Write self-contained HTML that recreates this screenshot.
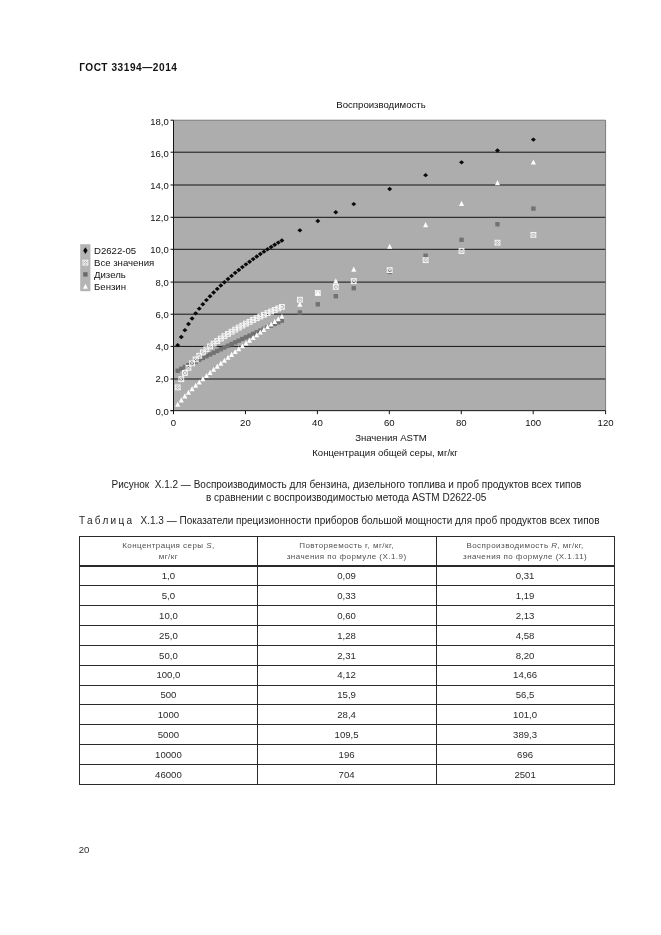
<!DOCTYPE html>
<html lang="ru"><head><meta charset="utf-8"><title>ГОСТ 33194—2014</title>
<style>
html,body{margin:0;padding:0;background:#fff;}
body{width:661px;height:935px;position:relative;overflow:hidden;font-family:"Liberation Sans",Arial,sans-serif;color:#1a1a1a;}
.t{position:absolute;white-space:nowrap;line-height:1;}
.c{transform:translateX(-50%);}
.r{transform:translateX(-100%);}
.hd{font-weight:bold;font-size:10.1px;letter-spacing:0.55px;left:79.2px;top:62.7px;color:#111;}
.ax{font-size:9.6px;color:#111;}
.cap{font-size:10px;color:#222;}
.hl{position:absolute;background:#2a2a2a;}
.th{font-size:8px;letter-spacing:0.45px;color:#505050;}
.td{font-size:9.6px;color:#2a2a2a;}
</style></head><body>
<svg width="661" height="935" viewBox="0 0 661 935" style="position:absolute;left:0;top:0">
<rect x="173.5" y="120.2" width="432.10" height="290.45" fill="#adadad"/>
<rect x="173.5" y="378.50" width="432.10" height="1" fill="#141414"/>
<rect x="173.5" y="345.90" width="432.10" height="1" fill="#141414"/>
<rect x="173.5" y="313.70" width="432.10" height="1" fill="#141414"/>
<rect x="173.5" y="281.60" width="432.10" height="1" fill="#141414"/>
<rect x="173.5" y="248.80" width="432.10" height="1" fill="#141414"/>
<rect x="173.5" y="216.80" width="432.10" height="1" fill="#141414"/>
<rect x="173.5" y="184.50" width="432.10" height="1" fill="#141414"/>
<rect x="173.5" y="151.70" width="432.10" height="1" fill="#141414"/>
<path d="M173.5 120.2H605.6V410.65" fill="none" stroke="#666" stroke-width="0.8"/>
<rect x="173.0" y="120.2" width="1" height="293.45" fill="#141414"/>
<rect x="170.5" y="410.15" width="435.10" height="1" fill="#141414"/>
<rect x="170.5" y="410.15" width="3" height="1" fill="#141414"/>
<rect x="170.5" y="378.50" width="3" height="1" fill="#141414"/>
<rect x="170.5" y="345.90" width="3" height="1" fill="#141414"/>
<rect x="170.5" y="313.70" width="3" height="1" fill="#141414"/>
<rect x="170.5" y="281.60" width="3" height="1" fill="#141414"/>
<rect x="170.5" y="248.80" width="3" height="1" fill="#141414"/>
<rect x="170.5" y="216.80" width="3" height="1" fill="#141414"/>
<rect x="170.5" y="184.50" width="3" height="1" fill="#141414"/>
<rect x="170.5" y="151.70" width="3" height="1" fill="#141414"/>
<rect x="170.5" y="119.70" width="3" height="1" fill="#141414"/>
<rect x="173.00" y="410.65" width="1" height="3.5" fill="#141414"/>
<rect x="244.94" y="410.65" width="1" height="3.5" fill="#141414"/>
<rect x="316.88" y="410.65" width="1" height="3.5" fill="#141414"/>
<rect x="388.82" y="410.65" width="1" height="3.5" fill="#141414"/>
<rect x="460.76" y="410.65" width="1" height="3.5" fill="#141414"/>
<rect x="532.70" y="410.65" width="1" height="3.5" fill="#141414"/>
<rect x="605.10" y="410.65" width="1" height="3.5" fill="#141414"/>
<rect x="80.2" y="244.2" width="10.2" height="47" fill="#b4b4b4"/>
<g>
<path d="M177.69 342.93L180.19 345.13L177.69 347.33L175.19 345.13Z" fill="#0a0a0a"/>
<path d="M181.29 334.86L183.79 337.06L181.29 339.26L178.79 337.06Z" fill="#0a0a0a"/>
<path d="M184.88 327.93L187.38 330.13L184.88 332.33L182.38 330.13Z" fill="#0a0a0a"/>
<path d="M188.47 321.79L190.97 323.99L188.47 326.19L185.97 323.99Z" fill="#0a0a0a"/>
<path d="M192.06 316.24L194.56 318.44L192.06 320.64L189.56 318.44Z" fill="#0a0a0a"/>
<path d="M195.66 311.16L198.16 313.36L195.66 315.56L193.16 313.36Z" fill="#0a0a0a"/>
<path d="M199.25 306.46L201.75 308.66L199.25 310.86L196.75 308.66Z" fill="#0a0a0a"/>
<path d="M202.84 302.06L205.34 304.26L202.84 306.46L200.34 304.26Z" fill="#0a0a0a"/>
<path d="M206.44 297.91L208.94 300.11L206.44 302.31L203.94 300.11Z" fill="#0a0a0a"/>
<path d="M210.03 293.99L212.53 296.19L210.03 298.39L207.53 296.19Z" fill="#0a0a0a"/>
<path d="M213.62 290.27L216.12 292.47L213.62 294.67L211.12 292.47Z" fill="#0a0a0a"/>
<path d="M217.22 286.70L219.72 288.90L217.22 291.10L214.72 288.90Z" fill="#0a0a0a"/>
<path d="M220.81 283.29L223.31 285.49L220.81 287.69L218.31 285.49Z" fill="#0a0a0a"/>
<path d="M224.40 280.02L226.90 282.22L224.40 284.42L221.90 282.22Z" fill="#0a0a0a"/>
<path d="M228.00 276.79L230.50 278.99L228.00 281.19L225.50 278.99Z" fill="#0a0a0a"/>
<path d="M231.59 273.68L234.09 275.88L231.59 278.08L229.09 275.88Z" fill="#0a0a0a"/>
<path d="M235.18 270.67L237.68 272.87L235.18 275.07L232.68 272.87Z" fill="#0a0a0a"/>
<path d="M238.77 267.75L241.27 269.95L238.77 272.15L236.27 269.95Z" fill="#0a0a0a"/>
<path d="M242.37 264.92L244.87 267.12L242.37 269.32L239.87 267.12Z" fill="#0a0a0a"/>
<path d="M245.96 262.17L248.46 264.37L245.96 266.57L243.46 264.37Z" fill="#0a0a0a"/>
<path d="M249.55 259.50L252.05 261.70L249.55 263.90L247.05 261.70Z" fill="#0a0a0a"/>
<path d="M253.15 256.89L255.65 259.09L253.15 261.29L250.65 259.09Z" fill="#0a0a0a"/>
<path d="M256.74 254.35L259.24 256.55L256.74 258.75L254.24 256.55Z" fill="#0a0a0a"/>
<path d="M260.33 251.86L262.83 254.06L260.33 256.26L257.83 254.06Z" fill="#0a0a0a"/>
<path d="M263.93 249.44L266.43 251.64L263.93 253.84L261.43 251.64Z" fill="#0a0a0a"/>
<path d="M267.52 247.07L270.02 249.27L267.52 251.47L265.02 249.27Z" fill="#0a0a0a"/>
<path d="M271.11 244.80L273.61 247.00L271.11 249.20L268.61 247.00Z" fill="#0a0a0a"/>
<path d="M274.70 242.58L277.20 244.78L274.70 246.98L272.20 244.78Z" fill="#0a0a0a"/>
<path d="M278.30 240.40L280.80 242.60L278.30 244.80L275.80 242.60Z" fill="#0a0a0a"/>
<path d="M281.89 238.27L284.39 240.47L281.89 242.67L279.39 240.47Z" fill="#0a0a0a"/>
<path d="M299.86 228.16L302.36 230.36L299.86 232.56L297.36 230.36Z" fill="#0a0a0a"/>
<path d="M317.82 218.84L320.32 221.04L317.82 223.24L315.32 221.04Z" fill="#0a0a0a"/>
<path d="M335.78 210.12L338.28 212.32L335.78 214.52L333.28 212.32Z" fill="#0a0a0a"/>
<path d="M353.75 201.91L356.25 204.11L353.75 206.31L351.25 204.11Z" fill="#0a0a0a"/>
<path d="M389.68 186.80L392.18 189.00L389.68 191.20L387.18 189.00Z" fill="#0a0a0a"/>
<path d="M425.61 172.95L428.11 175.15L425.61 177.35L423.11 175.15Z" fill="#0a0a0a"/>
<path d="M461.54 160.15L464.04 162.35L461.54 164.55L459.04 162.35Z" fill="#0a0a0a"/>
<path d="M497.47 148.29L499.97 150.49L497.47 152.69L494.97 150.49Z" fill="#0a0a0a"/>
<path d="M533.40 137.42L535.90 139.62L533.40 141.82L530.90 139.62Z" fill="#0a0a0a"/>
</g>
<g>
<rect x="175.49" y="368.57" width="4.4" height="4.4" fill="#727272"/>
<rect x="179.09" y="366.66" width="4.4" height="4.4" fill="#727272"/>
<rect x="182.68" y="364.79" width="4.4" height="4.4" fill="#727272"/>
<rect x="186.27" y="362.95" width="4.4" height="4.4" fill="#727272"/>
<rect x="189.87" y="361.13" width="4.4" height="4.4" fill="#727272"/>
<rect x="193.46" y="359.33" width="4.4" height="4.4" fill="#727272"/>
<rect x="197.05" y="357.54" width="4.4" height="4.4" fill="#727272"/>
<rect x="200.64" y="355.76" width="4.4" height="4.4" fill="#727272"/>
<rect x="204.24" y="353.99" width="4.4" height="4.4" fill="#727272"/>
<rect x="207.83" y="352.24" width="4.4" height="4.4" fill="#727272"/>
<rect x="211.42" y="350.49" width="4.4" height="4.4" fill="#727272"/>
<rect x="215.02" y="348.74" width="4.4" height="4.4" fill="#727272"/>
<rect x="218.61" y="347.01" width="4.4" height="4.4" fill="#727272"/>
<rect x="222.20" y="345.28" width="4.4" height="4.4" fill="#727272"/>
<rect x="225.80" y="343.56" width="4.4" height="4.4" fill="#727272"/>
<rect x="229.39" y="341.86" width="4.4" height="4.4" fill="#727272"/>
<rect x="232.98" y="340.16" width="4.4" height="4.4" fill="#727272"/>
<rect x="236.57" y="338.48" width="4.4" height="4.4" fill="#727272"/>
<rect x="240.17" y="336.79" width="4.4" height="4.4" fill="#727272"/>
<rect x="243.76" y="335.11" width="4.4" height="4.4" fill="#727272"/>
<rect x="247.35" y="333.43" width="4.4" height="4.4" fill="#727272"/>
<rect x="250.95" y="331.76" width="4.4" height="4.4" fill="#727272"/>
<rect x="254.54" y="330.09" width="4.4" height="4.4" fill="#727272"/>
<rect x="258.13" y="328.42" width="4.4" height="4.4" fill="#727272"/>
<rect x="261.73" y="326.75" width="4.4" height="4.4" fill="#727272"/>
<rect x="265.32" y="325.09" width="4.4" height="4.4" fill="#727272"/>
<rect x="268.91" y="323.43" width="4.4" height="4.4" fill="#727272"/>
<rect x="272.50" y="321.78" width="4.4" height="4.4" fill="#727272"/>
<rect x="276.10" y="320.13" width="4.4" height="4.4" fill="#727272"/>
<rect x="279.69" y="318.48" width="4.4" height="4.4" fill="#727272"/>
<rect x="297.66" y="310.26" width="4.4" height="4.4" fill="#727272"/>
<rect x="315.62" y="302.13" width="4.4" height="4.4" fill="#727272"/>
<rect x="333.58" y="294.03" width="4.4" height="4.4" fill="#727272"/>
<rect x="351.55" y="285.98" width="4.4" height="4.4" fill="#727272"/>
<rect x="387.48" y="269.77" width="4.4" height="4.4" fill="#727272"/>
<rect x="423.41" y="253.54" width="4.4" height="4.4" fill="#727272"/>
<rect x="459.34" y="237.65" width="4.4" height="4.4" fill="#727272"/>
<rect x="495.27" y="222.02" width="4.4" height="4.4" fill="#727272"/>
<rect x="531.20" y="206.37" width="4.4" height="4.4" fill="#727272"/>
</g>
<g>
<g stroke="#f6f6f6" stroke-width="1" fill="none"><rect x="175.29" y="384.99" width="4.8" height="4.8"/><path d="M175.29 384.99L180.09 389.79M180.09 384.99L175.29 389.79" stroke-width="0.9"/></g>
<g stroke="#f6f6f6" stroke-width="1" fill="none"><rect x="178.89" y="376.80" width="4.8" height="4.8"/><path d="M178.89 376.80L183.69 381.60M183.69 376.80L178.89 381.60" stroke-width="0.9"/></g>
<g stroke="#f6f6f6" stroke-width="1" fill="none"><rect x="182.48" y="370.55" width="4.8" height="4.8"/><path d="M182.48 370.55L187.28 375.35M187.28 370.55L182.48 375.35" stroke-width="0.9"/></g>
<g stroke="#f6f6f6" stroke-width="1" fill="none"><rect x="186.07" y="365.40" width="4.8" height="4.8"/><path d="M186.07 365.40L190.87 370.20M190.87 365.40L186.07 370.20" stroke-width="0.9"/></g>
<g stroke="#f6f6f6" stroke-width="1" fill="none"><rect x="189.66" y="360.94" width="4.8" height="4.8"/><path d="M189.66 360.94L194.47 365.74M194.47 360.94L189.66 365.74" stroke-width="0.9"/></g>
<g stroke="#f6f6f6" stroke-width="1" fill="none"><rect x="193.26" y="356.95" width="4.8" height="4.8"/><path d="M193.26 356.95L198.06 361.75M198.06 356.95L193.26 361.75" stroke-width="0.9"/></g>
<g stroke="#f6f6f6" stroke-width="1" fill="none"><rect x="196.85" y="353.33" width="4.8" height="4.8"/><path d="M196.85 353.33L201.65 358.13M201.65 353.33L196.85 358.13" stroke-width="0.9"/></g>
<g stroke="#f6f6f6" stroke-width="1" fill="none"><rect x="200.44" y="349.98" width="4.8" height="4.8"/><path d="M200.44 349.98L205.24 354.78M205.24 349.98L200.44 354.78" stroke-width="0.9"/></g>
<g stroke="#f6f6f6" stroke-width="1" fill="none"><rect x="204.04" y="346.87" width="4.8" height="4.8"/><path d="M204.04 346.87L208.84 351.67M208.84 346.87L204.04 351.67" stroke-width="0.9"/></g>
<g stroke="#f6f6f6" stroke-width="1" fill="none"><rect x="207.63" y="343.95" width="4.8" height="4.8"/><path d="M207.63 343.95L212.43 348.75M212.43 343.95L207.63 348.75" stroke-width="0.9"/></g>
<g stroke="#f6f6f6" stroke-width="1" fill="none"><rect x="211.22" y="341.22" width="4.8" height="4.8"/><path d="M211.22 341.22L216.02 346.02M216.02 341.22L211.22 346.02" stroke-width="0.9"/></g>
<g stroke="#f6f6f6" stroke-width="1" fill="none"><rect x="214.82" y="338.63" width="4.8" height="4.8"/><path d="M214.82 338.63L219.62 343.43M219.62 338.63L214.82 343.43" stroke-width="0.9"/></g>
<g stroke="#f6f6f6" stroke-width="1" fill="none"><rect x="218.41" y="336.15" width="4.8" height="4.8"/><path d="M218.41 336.15L223.21 340.95M223.21 336.15L218.41 340.95" stroke-width="0.9"/></g>
<g stroke="#f6f6f6" stroke-width="1" fill="none"><rect x="222.00" y="333.79" width="4.8" height="4.8"/><path d="M222.00 333.79L226.80 338.59M226.80 333.79L222.00 338.59" stroke-width="0.9"/></g>
<g stroke="#f6f6f6" stroke-width="1" fill="none"><rect x="225.59" y="331.51" width="4.8" height="4.8"/><path d="M225.59 331.51L230.40 336.31M230.40 331.51L225.59 336.31" stroke-width="0.9"/></g>
<g stroke="#f6f6f6" stroke-width="1" fill="none"><rect x="229.19" y="329.32" width="4.8" height="4.8"/><path d="M229.19 329.32L233.99 334.12M233.99 329.32L229.19 334.12" stroke-width="0.9"/></g>
<g stroke="#f6f6f6" stroke-width="1" fill="none"><rect x="232.78" y="327.21" width="4.8" height="4.8"/><path d="M232.78 327.21L237.58 332.01M237.58 327.21L232.78 332.01" stroke-width="0.9"/></g>
<g stroke="#f6f6f6" stroke-width="1" fill="none"><rect x="236.37" y="325.16" width="4.8" height="4.8"/><path d="M236.37 325.16L241.17 329.96M241.17 325.16L236.37 329.96" stroke-width="0.9"/></g>
<g stroke="#f6f6f6" stroke-width="1" fill="none"><rect x="239.97" y="323.18" width="4.8" height="4.8"/><path d="M239.97 323.18L244.77 327.98M244.77 323.18L239.97 327.98" stroke-width="0.9"/></g>
<g stroke="#f6f6f6" stroke-width="1" fill="none"><rect x="243.56" y="321.26" width="4.8" height="4.8"/><path d="M243.56 321.26L248.36 326.06M248.36 321.26L243.56 326.06" stroke-width="0.9"/></g>
<g stroke="#f6f6f6" stroke-width="1" fill="none"><rect x="247.15" y="319.39" width="4.8" height="4.8"/><path d="M247.15 319.39L251.95 324.19M251.95 319.39L247.15 324.19" stroke-width="0.9"/></g>
<g stroke="#f6f6f6" stroke-width="1" fill="none"><rect x="250.75" y="317.57" width="4.8" height="4.8"/><path d="M250.75 317.57L255.55 322.37M255.55 317.57L250.75 322.37" stroke-width="0.9"/></g>
<g stroke="#f6f6f6" stroke-width="1" fill="none"><rect x="254.34" y="315.80" width="4.8" height="4.8"/><path d="M254.34 315.80L259.14 320.60M259.14 315.80L254.34 320.60" stroke-width="0.9"/></g>
<g stroke="#f6f6f6" stroke-width="1" fill="none"><rect x="257.93" y="314.06" width="4.8" height="4.8"/><path d="M257.93 314.06L262.73 318.86M262.73 314.06L257.93 318.86" stroke-width="0.9"/></g>
<g stroke="#f6f6f6" stroke-width="1" fill="none"><rect x="261.53" y="312.37" width="4.8" height="4.8"/><path d="M261.53 312.37L266.32 317.17M266.32 312.37L261.53 317.17" stroke-width="0.9"/></g>
<g stroke="#f6f6f6" stroke-width="1" fill="none"><rect x="265.12" y="310.73" width="4.8" height="4.8"/><path d="M265.12 310.73L269.92 315.53M269.92 310.73L265.12 315.53" stroke-width="0.9"/></g>
<g stroke="#f6f6f6" stroke-width="1" fill="none"><rect x="268.71" y="309.11" width="4.8" height="4.8"/><path d="M268.71 309.11L273.51 313.91M273.51 309.11L268.71 313.91" stroke-width="0.9"/></g>
<g stroke="#f6f6f6" stroke-width="1" fill="none"><rect x="272.30" y="307.53" width="4.8" height="4.8"/><path d="M272.30 307.53L277.10 312.33M277.10 307.53L272.30 312.33" stroke-width="0.9"/></g>
<g stroke="#f6f6f6" stroke-width="1" fill="none"><rect x="275.90" y="305.99" width="4.8" height="4.8"/><path d="M275.90 305.99L280.70 310.79M280.70 305.99L275.90 310.79" stroke-width="0.9"/></g>
<g stroke="#f6f6f6" stroke-width="1" fill="none"><rect x="279.49" y="304.47" width="4.8" height="4.8"/><path d="M279.49 304.47L284.29 309.27M284.29 304.47L279.49 309.27" stroke-width="0.9"/></g>
<g stroke="#f6f6f6" stroke-width="1" fill="none"><rect x="297.46" y="297.28" width="4.8" height="4.8"/><path d="M297.46 297.28L302.25 302.08M302.25 297.28L297.46 302.08" stroke-width="0.9"/></g>
<g stroke="#f6f6f6" stroke-width="1" fill="none"><rect x="315.42" y="290.65" width="4.8" height="4.8"/><path d="M315.42 290.65L320.22 295.45M320.22 290.65L315.42 295.45" stroke-width="0.9"/></g>
<g stroke="#f6f6f6" stroke-width="1" fill="none"><rect x="333.38" y="284.48" width="4.8" height="4.8"/><path d="M333.38 284.48L338.18 289.28M338.18 284.48L333.38 289.28" stroke-width="0.9"/></g>
<g stroke="#f6f6f6" stroke-width="1" fill="none"><rect x="351.35" y="278.65" width="4.8" height="4.8"/><path d="M351.35 278.65L356.15 283.45M356.15 278.65L351.35 283.45" stroke-width="0.9"/></g>
<g stroke="#f6f6f6" stroke-width="1" fill="none"><rect x="387.28" y="267.74" width="4.8" height="4.8"/><path d="M387.28 267.74L392.08 272.54M392.08 267.74L387.28 272.54" stroke-width="0.9"/></g>
<g stroke="#f6f6f6" stroke-width="1" fill="none"><rect x="423.21" y="257.80" width="4.8" height="4.8"/><path d="M423.21 257.80L428.01 262.60M428.01 257.80L423.21 262.60" stroke-width="0.9"/></g>
<g stroke="#f6f6f6" stroke-width="1" fill="none"><rect x="459.14" y="248.65" width="4.8" height="4.8"/><path d="M459.14 248.65L463.94 253.45M463.94 248.65L459.14 253.45" stroke-width="0.9"/></g>
<g stroke="#f6f6f6" stroke-width="1" fill="none"><rect x="495.07" y="240.28" width="4.8" height="4.8"/><path d="M495.07 240.28L499.87 245.08M499.87 240.28L495.07 245.08" stroke-width="0.9"/></g>
<g stroke="#f6f6f6" stroke-width="1" fill="none"><rect x="531.00" y="232.46" width="4.8" height="4.8"/><path d="M531.00 232.46L535.80 237.26M535.80 232.46L531.00 237.26" stroke-width="0.9"/></g>
</g>
<g>
<path d="M177.69 401.71L180.24 406.81L175.14 406.81Z" fill="#fcfcfc"/>
<path d="M181.29 397.33L183.84 402.43L178.74 402.43Z" fill="#fcfcfc"/>
<path d="M184.88 393.37L187.43 398.47L182.33 398.47Z" fill="#fcfcfc"/>
<path d="M188.47 389.66L191.02 394.76L185.92 394.76Z" fill="#fcfcfc"/>
<path d="M192.06 386.11L194.62 391.21L189.51 391.21Z" fill="#fcfcfc"/>
<path d="M195.66 382.70L198.21 387.80L193.11 387.80Z" fill="#fcfcfc"/>
<path d="M199.25 379.40L201.80 384.50L196.70 384.50Z" fill="#fcfcfc"/>
<path d="M202.84 376.18L205.39 381.28L200.29 381.28Z" fill="#fcfcfc"/>
<path d="M206.44 372.96L208.99 378.06L203.89 378.06Z" fill="#fcfcfc"/>
<path d="M210.03 369.79L212.58 374.89L207.48 374.89Z" fill="#fcfcfc"/>
<path d="M213.62 366.68L216.17 371.78L211.07 371.78Z" fill="#fcfcfc"/>
<path d="M217.22 363.62L219.77 368.72L214.67 368.72Z" fill="#fcfcfc"/>
<path d="M220.81 360.61L223.36 365.71L218.26 365.71Z" fill="#fcfcfc"/>
<path d="M224.40 357.63L226.95 362.73L221.85 362.73Z" fill="#fcfcfc"/>
<path d="M228.00 354.70L230.55 359.80L225.44 359.80Z" fill="#fcfcfc"/>
<path d="M231.59 351.80L234.14 356.90L229.04 356.90Z" fill="#fcfcfc"/>
<path d="M235.18 348.92L237.73 354.02L232.63 354.02Z" fill="#fcfcfc"/>
<path d="M238.77 346.07L241.32 351.17L236.22 351.17Z" fill="#fcfcfc"/>
<path d="M242.37 343.24L244.92 348.34L239.82 348.34Z" fill="#fcfcfc"/>
<path d="M245.96 340.46L248.51 345.56L243.41 345.56Z" fill="#fcfcfc"/>
<path d="M249.55 337.69L252.10 342.79L247.00 342.79Z" fill="#fcfcfc"/>
<path d="M253.15 334.94L255.70 340.04L250.60 340.04Z" fill="#fcfcfc"/>
<path d="M256.74 332.20L259.29 337.30L254.19 337.30Z" fill="#fcfcfc"/>
<path d="M260.33 329.48L262.88 334.58L257.78 334.58Z" fill="#fcfcfc"/>
<path d="M263.93 326.78L266.48 331.88L261.38 331.88Z" fill="#fcfcfc"/>
<path d="M267.52 324.10L270.07 329.20L264.97 329.20Z" fill="#fcfcfc"/>
<path d="M271.11 321.44L273.66 326.54L268.56 326.54Z" fill="#fcfcfc"/>
<path d="M274.70 318.83L277.25 323.93L272.15 323.93Z" fill="#fcfcfc"/>
<path d="M278.30 316.24L280.85 321.34L275.75 321.34Z" fill="#fcfcfc"/>
<path d="M281.89 313.70L284.44 318.80L279.34 318.80Z" fill="#fcfcfc"/>
<path d="M299.86 301.58L302.41 306.68L297.31 306.68Z" fill="#fcfcfc"/>
<path d="M317.82 289.91L320.37 295.01L315.27 295.01Z" fill="#fcfcfc"/>
<path d="M335.78 278.28L338.33 283.38L333.23 283.38Z" fill="#fcfcfc"/>
<path d="M353.75 266.53L356.30 271.63L351.20 271.63Z" fill="#fcfcfc"/>
<path d="M389.68 243.69L392.23 248.79L387.13 248.79Z" fill="#fcfcfc"/>
<path d="M425.61 222.04L428.16 227.14L423.06 227.14Z" fill="#fcfcfc"/>
<path d="M461.54 200.84L464.09 205.94L458.99 205.94Z" fill="#fcfcfc"/>
<path d="M497.47 180.04L500.02 185.14L494.92 185.14Z" fill="#fcfcfc"/>
<path d="M533.40 159.38L535.95 164.48L530.85 164.48Z" fill="#fcfcfc"/>
</g>
<path d="M85.4 247.3L87.60000000000001 250.6L85.4 253.9L83.2 250.6Z" fill="#0a0a0a"/>
<g stroke="#f6f6f6" stroke-width="1" fill="none"><rect x="83.00" y="260.20" width="4.8" height="4.8"/><path d="M83.00 260.20L87.80 265.00M87.80 260.20L83.00 265.00" stroke-width="0.9"/></g>
<rect x="83.2" y="272.2" width="4.4" height="4.4" fill="#6a6a6a"/>
<path d="M85.40 283.65L87.95 288.75L82.85 288.75Z" fill="#fcfcfc"/>
</svg>
<div class="t hd">ГОСТ 33194—2014</div>
<div class="t ax c" style="left:381px;top:99.8px">Воспроизводимость</div>
<div class="t ax r" style="left:168.7px;top:406.6px;font-size:9.5px">0,0</div>
<div class="t ax r" style="left:168.7px;top:374.2px;font-size:9.5px">2,0</div>
<div class="t ax r" style="left:168.7px;top:342.1px;font-size:9.5px">4,0</div>
<div class="t ax r" style="left:168.7px;top:309.9px;font-size:9.5px">6,0</div>
<div class="t ax r" style="left:168.7px;top:277.8px;font-size:9.5px">8,0</div>
<div class="t ax r" style="left:168.7px;top:245.2px;font-size:9.5px">10,0</div>
<div class="t ax r" style="left:168.7px;top:212.9px;font-size:9.5px">12,0</div>
<div class="t ax r" style="left:168.7px;top:180.9px;font-size:9.5px">14,0</div>
<div class="t ax r" style="left:168.7px;top:148.6px;font-size:9.5px">16,0</div>
<div class="t ax r" style="left:168.7px;top:117.3px;font-size:9.5px">18,0</div>
<div class="t ax c" style="left:173.5px;top:418px">0</div>
<div class="t ax c" style="left:245.4px;top:418px">20</div>
<div class="t ax c" style="left:317.4px;top:418px">40</div>
<div class="t ax c" style="left:389.3px;top:418px">60</div>
<div class="t ax c" style="left:461.3px;top:418px">80</div>
<div class="t ax c" style="left:533.2px;top:418px">100</div>
<div class="t ax c" style="left:605.6px;top:418px">120</div>
<div class="t ax c" style="left:391px;top:432.6px">Значения ASTM</div>
<div class="t ax c" style="left:385px;top:448.2px;font-size:9.55px">Концентрация общей серы, мг/кг</div>
<div class="t ax" style="left:94px;top:246.2px;font-size:9.6px">D2622-05</div>
<div class="t ax" style="left:94px;top:258.1px;font-size:9.6px">Все значения</div>
<div class="t ax" style="left:94px;top:269.9px;font-size:9.6px">Дизель</div>
<div class="t ax" style="left:94px;top:281.8px;font-size:9.6px">Бензин</div>
<div class="t cap c" style="left:346.4px;top:480.2px">Рисунок&nbsp; Х.1.2 — Воспроизводимость для бензина, дизельного топлива и проб продуктов всех типов</div>
<div class="t cap c" style="left:346.2px;top:492.6px">в сравнении с воспроизводимостью метода ASTM D2622-05</div>
<div class="t cap" style="left:79px;top:516.2px"><span style="letter-spacing:2.3px;margin-right:0.7px">Таблица</span>&nbsp;&nbsp;Х.1.3 — Показатели прецизионности приборов большой мощности для проб продуктов всех типов</div>
<div class="hl" style="left:78.9px;top:536.15px;width:536.4px;height:1.0px"></div>
<div class="hl" style="left:78.9px;top:565.10px;width:536.4px;height:1.6px"></div>
<div class="hl" style="left:78.9px;top:585.25px;width:536.4px;height:1.0px"></div>
<div class="hl" style="left:78.9px;top:605.11px;width:536.4px;height:1.0px"></div>
<div class="hl" style="left:78.9px;top:624.96px;width:536.4px;height:1.0px"></div>
<div class="hl" style="left:78.9px;top:644.82px;width:536.4px;height:1.0px"></div>
<div class="hl" style="left:78.9px;top:664.67px;width:536.4px;height:1.0px"></div>
<div class="hl" style="left:78.9px;top:684.53px;width:536.4px;height:1.0px"></div>
<div class="hl" style="left:78.9px;top:704.38px;width:536.4px;height:1.0px"></div>
<div class="hl" style="left:78.9px;top:724.24px;width:536.4px;height:1.0px"></div>
<div class="hl" style="left:78.9px;top:744.09px;width:536.4px;height:1.0px"></div>
<div class="hl" style="left:78.9px;top:763.95px;width:536.4px;height:1.0px"></div>
<div class="hl" style="left:78.9px;top:783.80px;width:536.4px;height:1.0px"></div>
<div class="hl" style="left:78.90px;top:536.15px;width:1px;height:248.65px"></div>
<div class="hl" style="left:256.90px;top:536.15px;width:1px;height:248.65px"></div>
<div class="hl" style="left:435.70px;top:536.15px;width:1px;height:248.65px"></div>
<div class="hl" style="left:614.30px;top:536.15px;width:1px;height:248.65px"></div>
<div class="t th c" style="left:168.4px;top:541.5px">Концентрация серы <i>S</i>,</div>
<div class="t th c" style="left:168.4px;top:552.9px">мг/кг</div>
<div class="t th c" style="left:346.6px;top:541.5px">Повторяемость r, мг/кг,</div>
<div class="t th c" style="left:346.6px;top:552.9px">значения по формуле (Х.1.9)</div>
<div class="t th c" style="left:525.1px;top:541.5px">Воспроизводимость <i>R</i>, мг/кг,</div>
<div class="t th c" style="left:525.1px;top:552.9px">значения по формуле (Х.1.11)</div>
<div class="t td c" style="left:168.4px;top:571.1px">1,0</div>
<div class="t td c" style="left:346.6px;top:571.1px">0,09</div>
<div class="t td c" style="left:525.1px;top:571.1px">0,31</div>
<div class="t td c" style="left:168.4px;top:591.0px">5,0</div>
<div class="t td c" style="left:346.6px;top:591.0px">0,33</div>
<div class="t td c" style="left:525.1px;top:591.0px">1,19</div>
<div class="t td c" style="left:168.4px;top:610.8px">10,0</div>
<div class="t td c" style="left:346.6px;top:610.8px">0,60</div>
<div class="t td c" style="left:525.1px;top:610.8px">2,13</div>
<div class="t td c" style="left:168.4px;top:630.7px">25,0</div>
<div class="t td c" style="left:346.6px;top:630.7px">1,28</div>
<div class="t td c" style="left:525.1px;top:630.7px">4,58</div>
<div class="t td c" style="left:168.4px;top:650.5px">50,0</div>
<div class="t td c" style="left:346.6px;top:650.5px">2,31</div>
<div class="t td c" style="left:525.1px;top:650.5px">8,20</div>
<div class="t td c" style="left:168.4px;top:670.4px">100,0</div>
<div class="t td c" style="left:346.6px;top:670.4px">4,12</div>
<div class="t td c" style="left:525.1px;top:670.4px">14,66</div>
<div class="t td c" style="left:168.4px;top:690.3px">500</div>
<div class="t td c" style="left:346.6px;top:690.3px">15,9</div>
<div class="t td c" style="left:525.1px;top:690.3px">56,5</div>
<div class="t td c" style="left:168.4px;top:710.1px">1000</div>
<div class="t td c" style="left:346.6px;top:710.1px">28,4</div>
<div class="t td c" style="left:525.1px;top:710.1px">101,0</div>
<div class="t td c" style="left:168.4px;top:730.0px">5000</div>
<div class="t td c" style="left:346.6px;top:730.0px">109,5</div>
<div class="t td c" style="left:525.1px;top:730.0px">389,3</div>
<div class="t td c" style="left:168.4px;top:749.8px">10000</div>
<div class="t td c" style="left:346.6px;top:749.8px">196</div>
<div class="t td c" style="left:525.1px;top:749.8px">696</div>
<div class="t td c" style="left:168.4px;top:769.7px">46000</div>
<div class="t td c" style="left:346.6px;top:769.7px">704</div>
<div class="t td c" style="left:525.1px;top:769.7px">2501</div>
<div class="t td" style="left:78.7px;top:845.3px;font-size:9.6px">20</div>
</body></html>
